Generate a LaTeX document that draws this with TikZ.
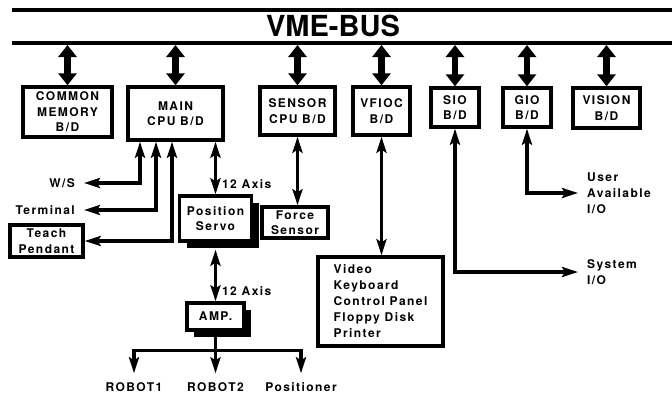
\documentclass[tikz,border=0pt]{standalone}
\usepackage{fontspec}
\setmainfont{TeX Gyre Heros}[LetterSpace=12]
\newfontfamily\busfont{TeX Gyre Heros}
\usetikzlibrary{arrows.meta,shadows}

\begin{document}
\begin{tikzpicture}[x=1pt,y=-1pt,
    board/.style={draw, line width=3.4pt, align=center, inner sep=2pt,
        font=\fontsize{12}{15.5}\selectfont\bfseries},
    txt/.style={align=left, inner sep=2pt, font=\fontsize{12}{16}\selectfont\bfseries},
    busarrow/.style={line width=6.5pt, {Triangle[length=12pt,width=18pt]}-{Triangle[length=12pt,width=18pt]}},
    conn/.style={line width=3.2pt, {Stealth[length=16pt,width=10pt,inset=3pt]}-{Stealth[length=16pt,width=10pt,inset=3pt]}},
    single/.style={line width=3.2pt, -{Stealth[length=16pt,width=10pt,inset=3pt]}},
    shade/.style={fill=white, drop shadow={shadow xshift=7pt, shadow yshift=-7pt, opacity=1, fill=black}}]
        \useasboundingbox (0,0) rectangle (672,397);

        % VME bus
        \draw[line width=4.5pt] (12,10) -- (672,10);
        \draw[line width=4.5pt] (12,43) -- (672,43);
        \node[font=\busfont\bfseries\fontsize{29}{29}\selectfont] (vme) at (333,26) {VME-BUS};
        \coordinate (busbot) at (0,45);

        % Boards on the bus
        \node[board, minimum width=89pt, minimum height=50pt] (cm) at (67.5,112) {COMMON\\MEMORY\\B/D};
        \node[board, minimum width=95pt, minimum height=53pt] (main) at (175.5,113.5) {MAIN\\CPU B/D};
        \node[board, minimum width=75pt, minimum height=48pt] (sensor) at (297.5,111) {SENSOR\\CPU B/D};
        \node[board, minimum width=57pt, minimum height=48pt] (vfioc) at (381.5,111) {VFIOC\\B/D};
        \node[board, minimum width=48pt, minimum height=39pt] (sio) at (455,107.5) {SIO\\B/D};
        \node[board, minimum width=48pt, minimum height=39pt] (gio) at (527,107.5) {GIO\\B/D};
        \node[board, minimum width=67pt, minimum height=40pt] (vision) at (606.5,108) {VISION\\B/D};

        \foreach \b in {cm,main,sensor,vfioc,sio,gio,vision}
            \draw[busarrow] (\b.north |- busbot) -- (\b.north);

        % Main CPU peripherals
        \node[txt, anchor=east, inner xsep=9pt] (ws) at (84,183) {W/S};
        \node[txt, anchor=east, inner xsep=9pt] (term) at (84,210) {Terminal};
        \node[board, minimum width=73pt, minimum height=32pt] (teach) at (46.5,241) {Teach\\Pendant};
        \draw[conn] ([xshift=-35.5pt]main.south) |- (ws);
        \draw[conn] ([xshift=-19.5pt]main.south) |- (term);
        \draw[conn] ([xshift=-3.5pt]main.south) |- (teach);

        % Servo and amplifier
        \node[board, shade, minimum width=72pt, minimum height=45pt] (servo) at (215.5,218.5) {Position\\Servo};
        \draw[conn] (servo.north |- main.south) -- (servo.north)
            node[txt, right, pos=0.8, xshift=3pt] (axis1) {12 Axis};
        \node[board, shade, minimum width=57pt, minimum height=27pt] (amp) at (215.5,316.5) {AMP.};
        \draw[conn] ([yshift=-7pt]servo.south) -- (amp.north)
            node[txt, right, pos=0.8, xshift=3pt] (axis2) {12 Axis};

        % Robot outputs
        \coordinate (fork) at ([yshift=-19pt]amp.south);
        \node[txt, inner ysep=9pt] (rob1) at (134,387) {ROBOT1};
        \node[txt, inner ysep=9pt] (rob2) at (215.5,387) {ROBOT2};
        \node[txt, inner ysep=9pt] (posi) at (301,387) {Positioner};
        \draw[line width=3.2pt] (amp.south) -- (fork);
        \foreach \r in {rob1,rob2,posi}
            \draw[single] (fork) -| (\r);

        % Force sensor
        \node[board, minimum width=66pt, minimum height=31pt] (force) at (295,222.5) {Force\\Sensor};
        \draw[conn] (sensor.south) -- (sensor.south |- force.north);

        % VFIOC devices
        \node[board, align=left, minimum width=125pt, minimum height=89pt,
            font=\fontsize{12}{16}\selectfont\bfseries] (video) at (380.5,301.5)
            {Video\\Keyboard\\Control Panel\\Floppy Disk\\Printer};
        \draw[conn] (vfioc.south) -- (vfioc.south |- video.north);

        % SIO and GIO
        \node[txt, anchor=west, inner xsep=9pt] (sysio) at (578,272) {System\\I/O};
        \draw[conn] (sio.south) |- (sysio);
        \node[txt, anchor=west, inner xsep=9pt] (userio) at (578,193) {User\\Available\\I/O};
        \draw[conn] (gio.south) |- (userio);
    \end{tikzpicture}
\end{document}
